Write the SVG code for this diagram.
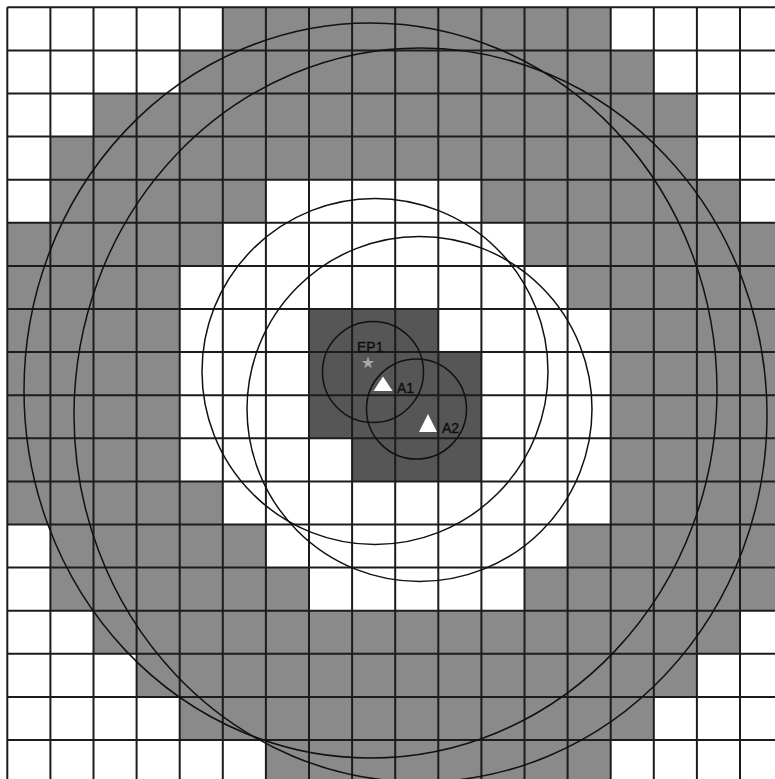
<svg xmlns="http://www.w3.org/2000/svg" width="775" height="779" viewBox="0 0 775 779">
<style>
.g{fill:#8a8a8a}
.d{fill:#565656}
.gl{stroke:#1c1c1c;stroke-width:2;fill:none}
.c{stroke:#111;stroke-width:1.5;fill:none}
.lbl{font-family:"Liberation Sans",Arial,sans-serif;font-size:14px;fill:#0e0e0e;stroke:#0e0e0e;stroke-width:0.35}
</style>
<rect width="775" height="779" fill="#fff"/>
<g id="cells" transform="translate(7.3 7.3) scale(43.1)">
<g class="g">
<rect x="5" y="0" width="9" height="1"/>
<rect x="4" y="1" width="11" height="1"/>
<rect x="2" y="2" width="14" height="1"/>
<rect x="1" y="3" width="15" height="1"/>
<rect x="1" y="4" width="5" height="1"/>
<rect x="11" y="4" width="6" height="1"/>
<rect x="0" y="5" width="5" height="1"/>
<rect x="12" y="5" width="6" height="1"/>
<rect x="0" y="6" width="4" height="5"/>
<rect x="13" y="6" width="5" height="1"/>
<rect x="14" y="7" width="4" height="5"/>
<rect x="0" y="11" width="5" height="1"/>
<rect x="1" y="12" width="5" height="1"/>
<rect x="13" y="12" width="5" height="1"/>
<rect x="1" y="13" width="6" height="1"/>
<rect x="12" y="13" width="6" height="1"/>
<rect x="2" y="14" width="15" height="1"/>
<rect x="3" y="15" width="13" height="1"/>
<rect x="4" y="16" width="11" height="1"/>
<rect x="6" y="17" width="8" height="1"/>
</g>
<g class="d">
<rect x="7" y="7" width="3" height="1"/>
<rect x="7" y="8" width="4" height="2"/>
<rect x="8" y="10" width="3" height="1"/>
</g>
</g>
<g id="grid" class="gl">
<path d="M7.3 7.3V785M50.4 7.3V785M93.5 7.3V785M136.6 7.3V785M179.7 7.3V785M222.8 7.3V785M265.9 7.3V785M309 7.3V785M352.1 7.3V785M395.2 7.3V785M438.3 7.3V785M481.4 7.3V785M524.5 7.3V785M567.6 7.3V785M610.7 7.3V785M653.8 7.3V785M696.9 7.3V785M740 7.3V785"/>
<path d="M7.3 7.3H780M7.3 50.4H780M7.3 93.5H780M7.3 136.6H780M7.3 179.7H780M7.3 222.8H780M7.3 265.9H780M7.3 309H780M7.3 352.1H780M7.3 395.2H780M7.3 438.3H780M7.3 481.4H780M7.3 524.5H780M7.3 567.6H780M7.3 610.7H780M7.3 653.8H780M7.3 696.9H780M7.3 740H780"/>
</g>
<g id="rings" class="c">
<ellipse cx="370.5" cy="390.5" rx="346.5" ry="367.5"/>
<ellipse cx="420.5" cy="415" rx="346.5" ry="367"/>
<circle cx="375" cy="371.5" r="173"/>
<circle cx="419.5" cy="409" r="172.5"/>
<circle cx="373" cy="372" r="50.5"/>
<circle cx="416.5" cy="409" r="50"/>
</g>
<g id="EP1">
<polygon points="368,356.5 369.53,360.9 374.18,360.99 370.47,363.8 371.82,368.26 368,365.6 364.18,368.26 365.53,363.8 361.82,360.99 366.47,360.9" fill="#a8a8a8"/>
<text class="lbl" x="357" y="352">EP1</text>
</g>
<g id="A1">
<polygon points="383,376.5 373.5,391 392.5,391" fill="#fff"/>
<text class="lbl" x="397" y="393">A1</text>
</g>
<g id="A2">
<polygon points="428,414 419,432 437,432" fill="#fff"/>
<text class="lbl" x="442" y="433">A2</text>
</g>
</svg>
